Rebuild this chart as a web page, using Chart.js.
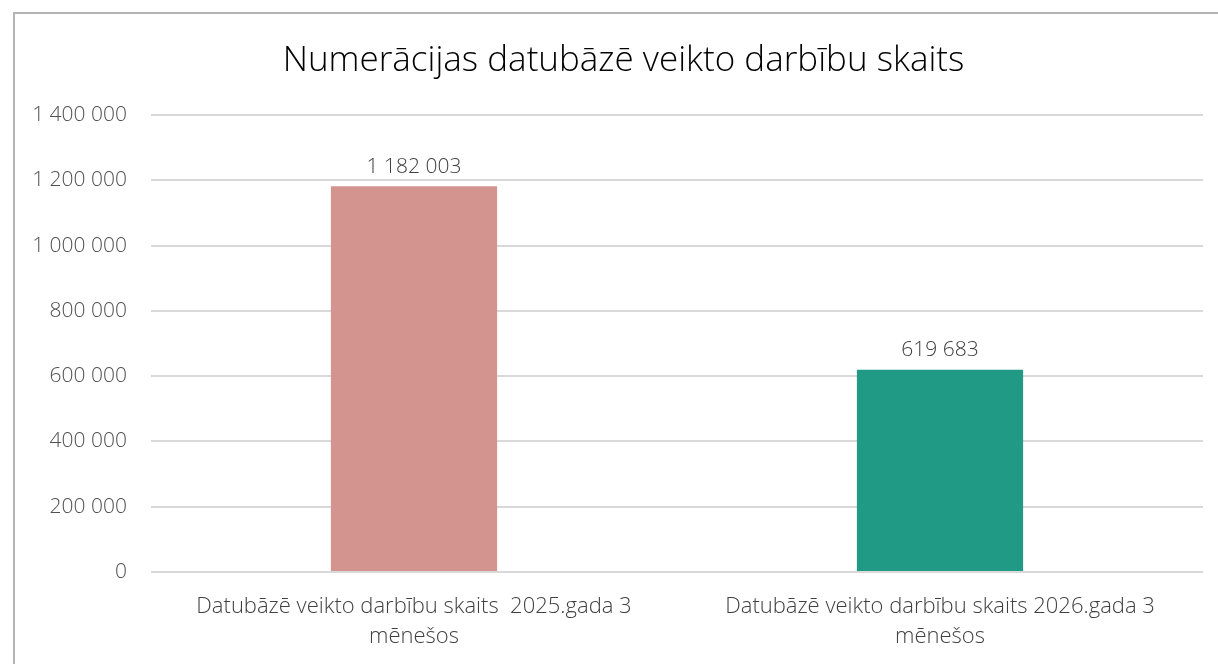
<!DOCTYPE html>
<html>
<head>
<meta charset="utf-8">
<script src="https://cdn.jsdelivr.net/npm/chart.js@4/dist/chart.umd.min.js"></script>
<style>
  html, body { margin: 0; padding: 0; background: #fff; overflow: hidden; }
  #frame {
    position: absolute; left: 13px; top: 12px;
    width: 1300px; height: 800px;
    border: 2px solid #b4b4b4; box-sizing: border-box;
  }
  #wrap { position: absolute; left: 0; top: 0; width: 1218px; height: 664px; }
</style>
</head>
<body>
<div id="frame"></div>
<div id="wrap"><canvas id="chart"></canvas></div>
<script>
// dati
const categories = [
  ['Datubāzē veikto darbību skaits  2025.gada 3', 'mēnešos'],
  ['Datubāzē veikto darbību skaits 2026.gada 3', 'mēnešos']
];
const values = [1182003, 619683];
const barColors = ['#D39490', '#209985'];
const yTicks = [0, 200000, 400000, 600000, 800000, 1000000, 1200000, 1400000];

const FONT = "'Open Sans', 'Segoe UI', sans-serif";

function fmt(n) {
  return String(n).replace(/\B(?=(\d{3})+(?!\d))/g, ' ');
}

// vērtības virs stabiņiem + virsraksta nobīde
const barLabels = {
  id: 'barLabels',
  afterLayout(chart) {
    // virsraksts centrēts pēc rāmja, ne pēc audekla
    chart.titleBlock.left += 22;
    chart.titleBlock.right += 22;
  },
  afterDatasetsDraw(chart) {
    const ctx = chart.ctx;
    const meta = chart.getDatasetMeta(0);
    ctx.save();
    ctx.font = '300 21px ' + FONT;
    ctx.fillStyle = '#404040';
    ctx.textAlign = 'center';
    ctx.textBaseline = 'bottom';
    meta.data.forEach((bar, i) => {
      ctx.fillText(fmt(values[i]), bar.x, bar.y - 9);
    });
    ctx.restore();
  }
};

new Chart(document.getElementById('chart').getContext('2d'), {
  type: 'bar',
  data: {
    labels: categories,
    datasets: [{
      data: values,
      backgroundColor: barColors,
      borderWidth: 0,
      barPercentage: 0.632,
      categoryPercentage: 0.5
    }]
  },
  options: {
    responsive: true,
    maintainAspectRatio: false,
    animation: false,
    layout: { padding: { left: 0, right: 15, top: 0, bottom: 0 } },
    plugins: {
      legend: { display: false },
      tooltip: { enabled: false },
      title: {
        display: true,
        text: 'Numerācijas datubāzē veikto darbību skaits',
        color: '#000',
        font: { family: FONT, size: 35, weight: '300' },
        padding: { top: 40, bottom: 33 }
      }
    },
    scales: {
      x: {
        grid: { display: false, drawTicks: false },
        border: { display: false },
        ticks: {
          color: '#404040',
          font: { family: FONT, size: 22, weight: '300', lineHeight: 1.36 },
          padding: 20,
          maxRotation: 0,
          autoSkip: false
        },
        afterFit(scale) { scale.height = 92; }
      },
      y: {
        min: 0,
        max: 1400000,
        afterBuildTicks(scale) { scale.ticks = yTicks.map(v => ({ value: v })); },
        grid: { color: '#d9d9d9', lineWidth: 2, drawTicks: false },
        border: { display: false },
        ticks: {
          color: '#505050',
          font: { family: FONT, size: 21, weight: '300' },
          padding: 24,
          callback: v => fmt(v)
        },
        afterFit(scale) { scale.width = 151; }
      }
    }
  },
  plugins: [barLabels]
});
</script>
</body>
</html>
